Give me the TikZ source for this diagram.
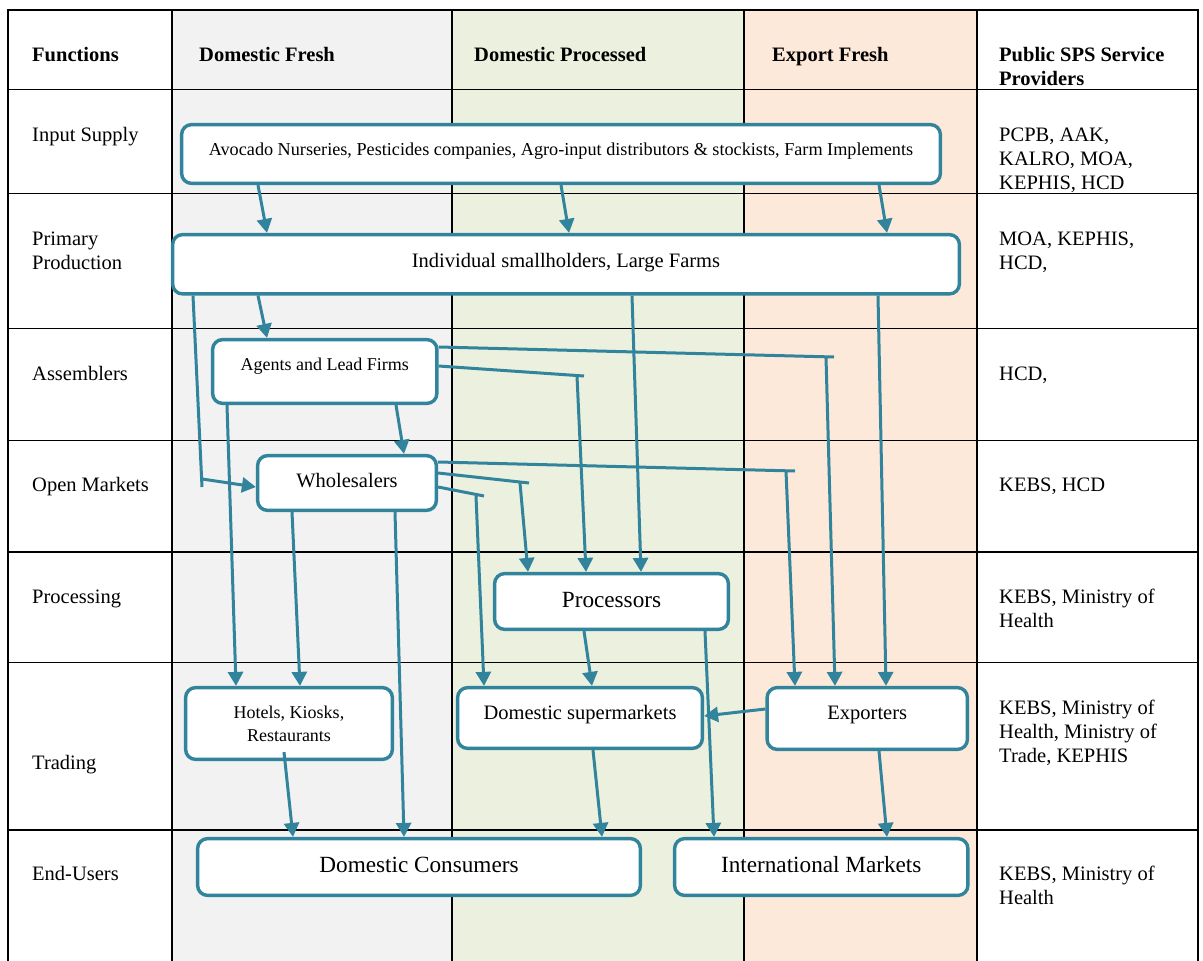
\documentclass[tikz,border=0pt]{standalone}
\usepackage{fontspec}
\setmainfont{Liberation Serif}
\usetikzlibrary{arrows.meta,calc}

\definecolor{flowteal}{HTML}{31849B}
\definecolor{freshgray}{HTML}{F2F2F2}
\definecolor{procgreen}{HTML}{EBF1DE}
\definecolor{exportpeach}{HTML}{FDE9D9}

\newcommand\szTab{\fontsize{20.5}{24}\selectfont}
\newcommand\szSmall{\fontsize{18}{23}\selectfont}
\newcommand\szInput{\fontsize{18.2}{23}\selectfont}
\newcommand\szBig{\fontsize{23.2}{27}\selectfont}
\newcommand\cellrows[1]{\begin{tabular}[t]{@{}l@{}}#1\end{tabular}}

\begin{document}
\begin{tikzpicture}[x=1pt,y=-1pt,
  gridline/.style={line width=1.8pt,black},
  box/.style={draw=flowteal,line width=3.4pt,rounded corners=10pt,fill=white,
              inner sep=0pt,align=center},
  flow/.style={draw=flowteal,line width=3pt,-{Triangle[length=14pt,width=15pt]}},
  cell/.style={anchor=base west,inner sep=0pt,font=\szTab},
  head/.style={cell,font=\szTab\bfseries}]

\useasboundingbox (0,0) rectangle (1203,961);

% column shading
\fill[freshgray]   (172,10) rectangle (452,961);
\fill[procgreen]   (452,10) rectangle (744,961);
\fill[exportpeach] (744,10) rectangle (977,961);

% table rules
\foreach \gx in {8,172,452,744,977,1198}
  \draw[gridline] (\gx,10) -- (\gx,961);
\foreach \gy in {10,89.5,193.5,328.5,440.5,552,662.5,830}
  \draw[gridline] (7.1,\gy) -- (1198.9,\gy);

% header row
\node[head] (hfun)  at (32,61.5)  {Functions};
\node[head] (hdf)   at (199,61.5) {Domestic Fresh};
\node[head] (hdp)   at (474,61.5) {Domestic Processed};
\node[head] (hef)   at (772,61.5) {Export Fresh};
\node[head] (hsps)  at (999,61.5) {\cellrows{Public SPS Service\\Providers}};

% function labels
\node[cell] (fin)   at (32,141.5) {Input Supply};
\node[cell] (fpp)   at (32,245.5) {\cellrows{Primary\\Production}};
\node[cell] (fas)   at (32,380.5) {Assemblers};
\node[cell] (fom)   at (32,491.5) {Open Markets};
\node[cell] (fpr)   at (32,603.5) {Processing};
\node[cell] (ftr)   at (32,769.5) {Trading};
\node[cell] (feu)   at (32,880.5) {End-Users};

% SPS service providers
\node[cell] (sin)   at (999,141.5) {\cellrows{PCPB, AAK,\\KALRO, MOA,\\KEPHIS, HCD}};
\node[cell] (spp)   at (999,245.5) {\cellrows{MOA, KEPHIS,\\HCD,}};
\node[cell] (sas)   at (999,380.5) {HCD,};
\node[cell] (som)   at (999,491.5) {KEBS, HCD};
\node[cell] (spr)   at (999,603.5) {\cellrows{KEBS, Ministry of\\Health}};
\node[cell] (str)   at (999,714.5) {\cellrows{KEBS, Ministry of\\Health, Ministry of\\Trade, KEPHIS}};
\node[cell] (seu)   at (999,880.5) {\cellrows{KEBS, Ministry of\\Health}};

% actors
\node[box,font=\szInput,minimum width=758.8pt,text height=30.4pt,text depth=28.4pt]
  (inp) at (561,154) {Avocado Nurseries, Pesticides companies, Agro-input distributors \& stockists, Farm Implements};
\node[box,font=\szTab,minimum width=786.8pt,text height=32.4pt,text depth=26.9pt]
  (prim) at (566,264.25) {Individual smallholders, Large Farms};
\node[box,font=\szSmall,minimum width=224.3pt,text height=30.4pt,text depth=33.4pt]
  (agt) at (324.75,371.5) {Agents and Lead Firms};
\node[box,font=\szTab,minimum width=178.8pt,text height=31.4pt,text depth=23.4pt]
  (whl) at (347,483) {Wholesalers};
\node[box,font=\szBig,minimum width=233.8pt,text height=33.4pt,text depth=22.4pt]
  (proc) at (611.5,601.5) {Processors};
\node[box,font=\szSmall,minimum width=206.8pt,minimum height=71.8pt]
  (hot) at (289,723.5) {Hotels, Kiosks,\\Restaurants};
\node[box,font=\szTab,minimum width=244.8pt,text height=31.4pt,text depth=29.4pt]
  (sup) at (580,718) {Domestic supermarkets};
\node[box,font=\szTab,minimum width=200.3pt,text height=31.4pt,text depth=30.4pt]
  (exp) at (867.25,718.5) {Exporters};
\node[box,font=\szBig,minimum width=442.8pt,text height=33.9pt,text depth=22.9pt]
  (dcon) at (419,867) {Domestic Consumers};
\node[box,font=\szBig,minimum width=293.3pt,text height=33.9pt,text depth=22.9pt]
  (intl) at (821.25,867) {International Markets};

% input supply to producers
\draw[flow] (inp.south -| 258,0) -- (prim.north -| 267,0);
\draw[flow] (inp.south -| 561,0) -- (prim.north -| 569,0);
\draw[flow] (inp.south -| 879,0) -- (prim.north -| 887,0);

% producers onward
\draw[flow] (prim.south -| 258,0) -- (agt.north -| 267,0);
\draw[flow] (prim.south -| 193,0) -- (202,487) (202,479) -- (whl.west |- 0,487);
\draw[flow] (prim.south -| 632,0) -- (proc.north -| 641,0);
\draw[flow] (prim.south -| 878,0) -- (exp.north -| 886,0);

% agents and lead firms
\draw[flow] (agt.east |- 0,347) -- (834,357) (826,357) -- (exp.north -| 835,0);
\draw[flow] (agt.east |- 0,366) -- (584,376) (577,376) -- (proc.north -| 586,0);
\draw[flow] (agt.south -| 396,0) -- (whl.north -| 404,0);
\draw[flow] (agt.south -| 227,0) -- (hot.north -| 236,0);

% wholesalers
\draw[flow] (whl.east |- 0,462) -- (795,471) (786,471) -- (exp.north -| 795,0);
\draw[flow] (whl.east |- 0,473) -- (529,483) (520,483) -- (proc.north -| 528,0);
\draw[flow] (whl.east |- 0,487) -- (484,496) (476,496) -- (sup.north -| 484,0);
\draw[flow] (whl.south -| 292,0) -- (hot.north -| 300,0);
\draw[flow] (whl.south -| 395,0) -- (dcon.north -| 404,0);

% processors
\draw[flow] (proc.south -| 584,0) -- (sup.north -| 592,0);
\draw[flow] (proc.south -| 705,0) -- (intl.north -| 714,0);

% exporters
\draw[flow] (exp.west |- 0,709) -- (sup.east |- 0,716);
\draw[flow] (exp.south -| 879,0) -- (intl.north -| 887,0);

% retail to consumers
\draw[flow] ($(hot.south -| 284,0)+(0,-9)$) -- (dcon.north -| 293,0);
\draw[flow] (sup.south -| 593,0) -- (dcon.north -| 602,0);

\end{tikzpicture}
\end{document}
